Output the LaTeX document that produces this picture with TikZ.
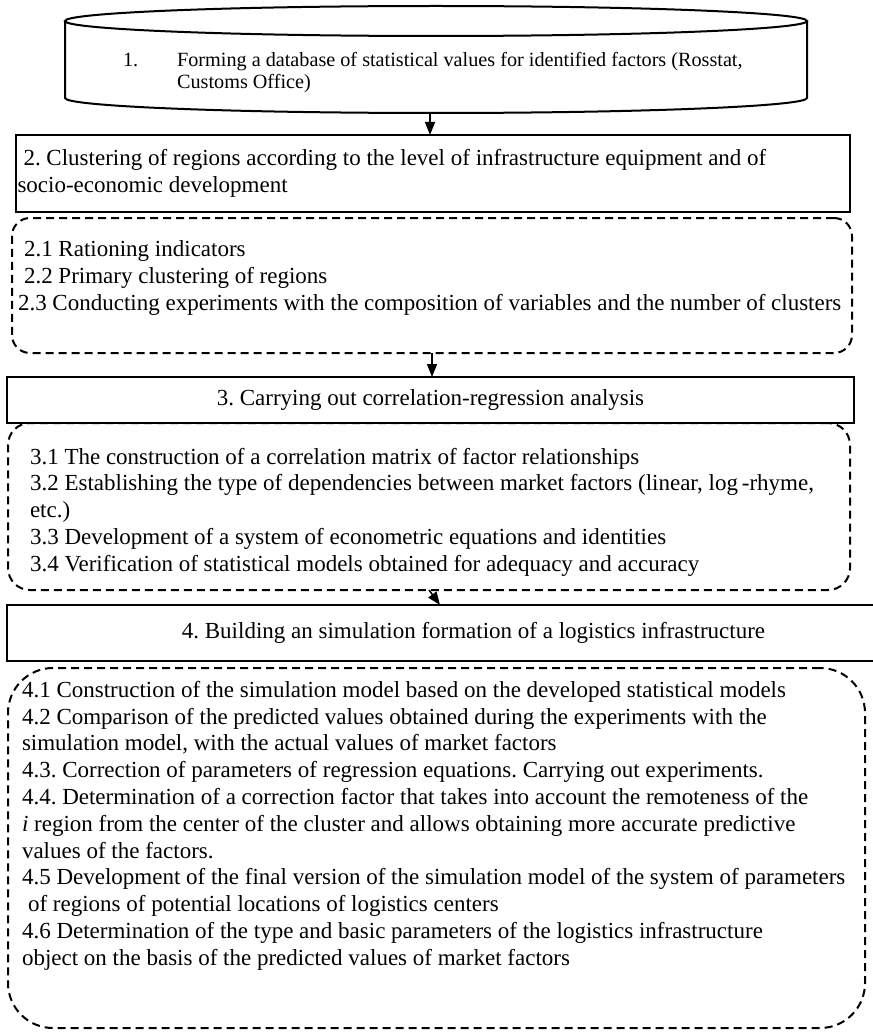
\documentclass[tikz,border=0pt]{standalone}
\usepackage{fontspec}
\setmainfont{Liberation Serif}
\usetikzlibrary{arrows.meta, calc, positioning}
\tikzset{
   box/.style={draw, line width=2.4pt, inner xsep=1.5pt, inner ysep=0pt,
      align=flush left, font=\fontsize{23}{26.8}\selectfont},
   group/.style={draw, line width=2pt, dash pattern=on 8pt off 5pt},
   item/.style={anchor=north west, inner sep=0pt, align=flush left,
      font=\fontsize{23}{26.8}\selectfont},
   flow/.style={line width=1.5pt, -{Triangle[length=13pt,width=10pt]}},
   drum/.style={line width=2pt},
}

\begin{document}
\frenchspacing
\begin{tikzpicture}[x=1pt, y=-1pt, every node/.style={outer sep=0pt}]
   \useasboundingbox (0,0) rectangle (872,1035);

   % database
   \draw[drum] (65,21) -- (65,98)
   arc[start angle=180, end angle=0, x radius=371, y radius=15] -- (807,21);
   \draw[drum] (436,21) ellipse[x radius=371, y radius=15];
   \node[anchor=west, inner sep=0pt, font=\fontsize{20.2}{22}\selectfont] (db)
   at (123,73) {\begin{tabular}{@{}l@{\hspace{39pt}}l@{}}
      1. & Forming a database of statistical values for identified factors (Rosstat,\\
         & Customs Office)
   \end{tabular}};
   \coordinate (db-base) at (430,113);

   % clustering
   \node[box, minimum height=77pt, text width=831pt] (cluster) at (433,173.5)
   {\hspace*{6pt}2. Clustering of regions according to the level of infrastructure equipment and of\\
   socio-economic development};
   \node[group, rounded corners=18pt, minimum width=840pt, minimum height=135pt]
   (cluster-steps) at (432,285.5) {};
   \node[item] (cluster-list) at (18,241) {\hspace*{6pt}2.1 Rationing indicators\\
   \hspace*{6pt}2.2 Primary clustering of regions\\
   2.3 Conducting experiments with the composition of variables and the number of clusters};

   % correlation-regression analysis
   \node[box, minimum width=847pt, minimum height=46pt, align=center] (analysis)
   at (430.5,400) {3. Carrying out correlation-regression analysis};
   \node[group, rounded corners=22pt, minimum width=842pt, minimum height=167pt]
   (analysis-steps) at (429,506.5) {};
   \node[item] (analysis-list) at (30,448) {3.1 The construction of a correlation matrix of factor relationships\\
   3.2 Establishing the type of dependencies between market factors (linear, log\,-rhyme,\\
   etc.)\\
   3.3 Development of a system of econometric equations and identities\\
   3.4 Verification of statistical models obtained for adequacy and accuracy};

   % simulation
   \node[box, minimum width=933pt, minimum height=56pt, align=center] (simulation)
   at (473.5,633) {4. Building an simulation formation of a logistics infrastructure};
   \node[group, rounded corners=45pt, minimum width=857pt, minimum height=360pt]
   (simulation-steps) at (436.5,848) {};
   \node[item] (simulation-list) at (22,681) {4.1 Construction of the simulation model based on the developed statistical models\\
   4.2 Comparison of the predicted values obtained during the experiments with the\\
   simulation model, with the actual values of market factors\\
   4.3. Correction of parameters of regression equations. Carrying out experiments.\\
   4.4. Determination of a correction factor that takes into account the remoteness of the\\
   \textit{i} region from the center of the cluster and allows obtaining more accurate predictive\\
   values of the factors.\\
   4.5 Development of the final version of the simulation model of the system of parameters\\
   \hspace*{6pt}of regions of potential locations of logistics centers\\
   4.6 Determination of the type and basic parameters of the logistics infrastructure\\
   object on the basis of the predicted values of market factors};

   \draw[flow] (db-base) -- (db-base |- cluster.north);
   \draw[flow] (cluster-steps.south) -- (cluster-steps.south |- analysis.north);
   \draw[flow] (analysis-steps.south) -- ($(simulation.north west)+(433,0)$);
\end{tikzpicture}
\end{document}
